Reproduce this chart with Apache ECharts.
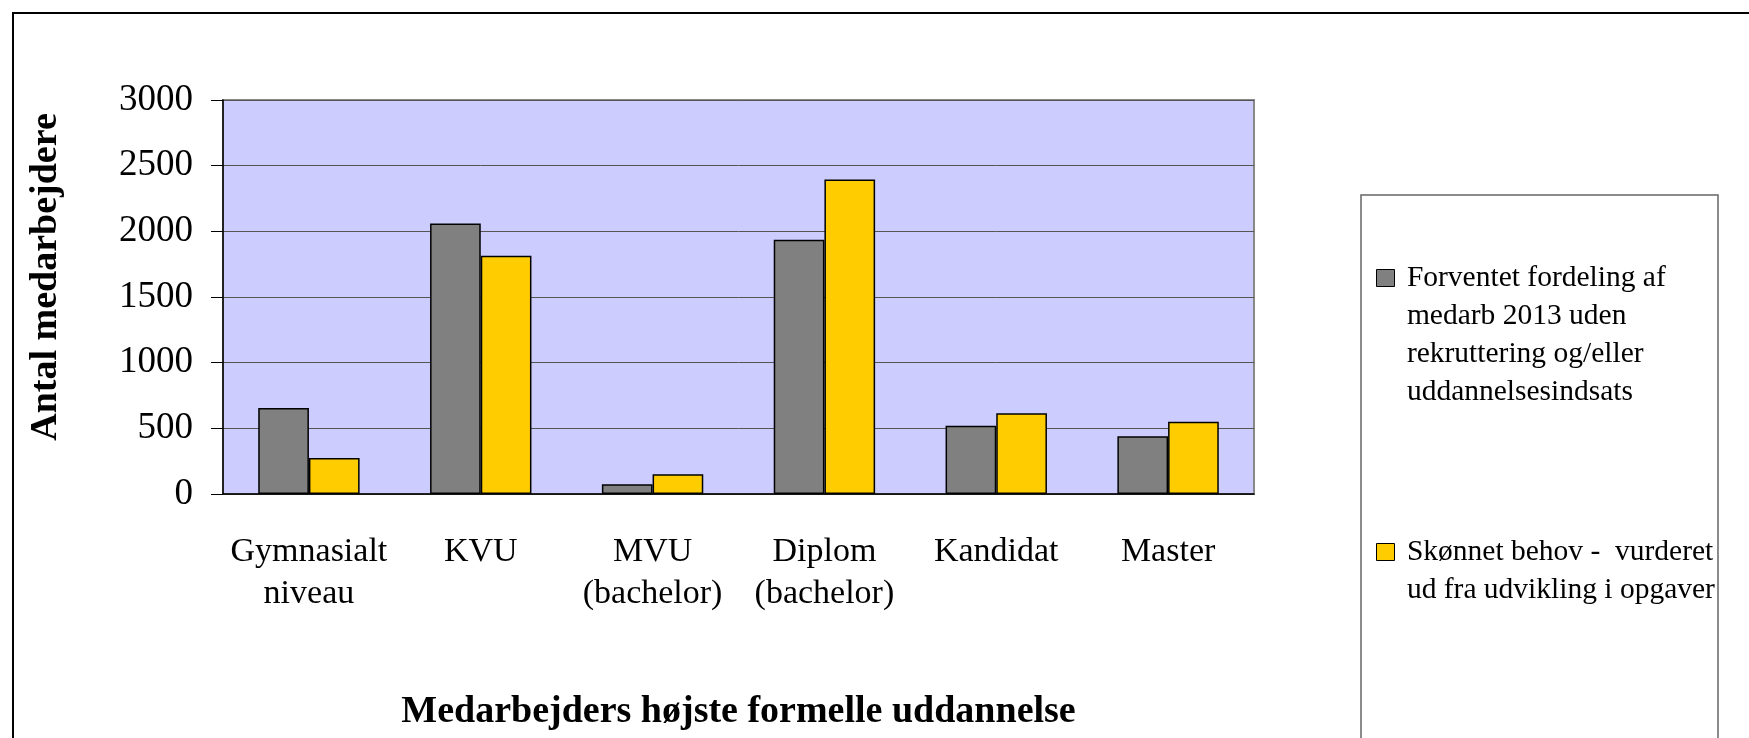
<!DOCTYPE html>
<html>
<head>
<meta charset="utf-8">
<title>Medarbejdere</title>
<script src="https://cdn.jsdelivr.net/npm/echarts/dist/echarts.min.js"></script>
<style>
  html, body { margin: 0; padding: 0; background: #fff; }
  #myChart { width: 1749px; height: 738px; }
</style>
</head>
<body>
<div id="myChart"></div>
<script>
// data
const categories = ["Gymnasialt\nniveau", "KVU", "MVU\n(bachelor)", "Diplom\n(bachelor)", "Kandidat", "Master"];
const forventetData = [655, 2060, 75, 1935, 520, 440];
const skoennetData = [275, 1815, 150, 2395, 615, 550];
const seriesNames = [
  "Forventet fordeling af\nmedarb 2013 uden\nrekruttering og/eller\nuddannelsesindsats",
  "Skønnet behov -  vurderet\nud fra udvikling i opgaver"
];
const yTicks = { min: 0, max: 3000, interval: 500 };

const font = "'Liberation Serif', 'Times New Roman', serif";

// legend text is centred on the icon by echarts, so pad it with empty
// lines on top to line the icon up with the first line
function legendText(name) {
  let lines = name.split("\n");
  let pad = [];
  for (let i = 1; i < lines.length; i++) pad.push("");
  return pad.concat(lines.map(function(l) { return " " + l; })).join("\n");
}

let myChart = echarts.init(document.getElementById("myChart"));
myChart.setOption({
  backgroundColor: "#fff",
  textStyle: { fontFamily: font, color: "#000" },
  // outer frame and legend box
  graphic: [
    {
      type: "rect",
      shape: { x: 13, y: 13, width: 1800, height: 800 },
      style: { fill: "none", stroke: "#000", lineWidth: 2 },
      silent: true
    },
    {
      type: "rect",
      shape: { x: 1361, y: 195, width: 357, height: 600 },
      style: { fill: "#fff", stroke: "#666", lineWidth: 1.5 },
      z: -1,
      silent: true
    }
  ],
  grid: {
    left: 223,
    right: 495,
    top: 100,
    bottom: 244,
    show: true,
    backgroundColor: "#CCCCFF",
    borderColor: "#888",
    borderWidth: 2
  },
  legend: {
    orient: "vertical",
    left: 1376,
    top: 145,
    padding: 0,
    itemWidth: 18,
    itemHeight: 17,
    itemGap: 84,
    icon: "rect",
    itemStyle: { borderColor: "#000", borderWidth: 1 },
    formatter: legendText,
    textStyle: { fontFamily: font, fontSize: 29.5, lineHeight: 38, color: "#000" },
    data: seriesNames
  },
  xAxis: {
    type: "category",
    data: categories,
    name: "Medarbejders højste formelle uddannelse",
    nameLocation: "middle",
    nameGap: 199,
    nameTextStyle: { fontFamily: font, fontSize: 38, fontWeight: "bold", color: "#000" },
    axisLine: { lineStyle: { color: "#000", width: 1.5 } },
    axisTick: { length: 12, lineStyle: { color: "#000" } },
    axisLabel: {
      fontFamily: font,
      fontSize: 34,
      lineHeight: 42,
      margin: 37,
      color: "#000",
      interval: 0
    }
  },
  yAxis: {
    type: "value",
    min: yTicks.min,
    max: yTicks.max,
    interval: yTicks.interval,
    name: "Antal medarbejdere",
    nameLocation: "middle",
    nameRotate: 90,
    nameGap: 158,
    nameTextStyle: {
      fontFamily: font,
      fontSize: 38,
      fontWeight: "bold",
      color: "#000",
      padding: [0, 0, 0, 40]
    },
    axisLine: { show: true, lineStyle: { color: "#000", width: 1.5 } },
    axisTick: { show: true, length: 12, lineStyle: { color: "#000" } },
    axisLabel: {
      fontFamily: font,
      fontSize: 37,
      margin: 30,
      color: "#000",
      formatter: function(v) { return String(v); }
    },
    splitLine: { lineStyle: { color: "#555", width: 1 } }
  },
  series: [
    {
      name: seriesNames[0],
      type: "bar",
      data: forventetData,
      barGap: "0%",
      barCategoryGap: "41%",
      itemStyle: { color: "#808080", borderColor: "#000", borderWidth: 1.5 }
    },
    {
      name: seriesNames[1],
      type: "bar",
      data: skoennetData,
      itemStyle: { color: "#FFCC00", borderColor: "#000", borderWidth: 1.5 }
    }
  ]
});
</script>
</body>
</html>
